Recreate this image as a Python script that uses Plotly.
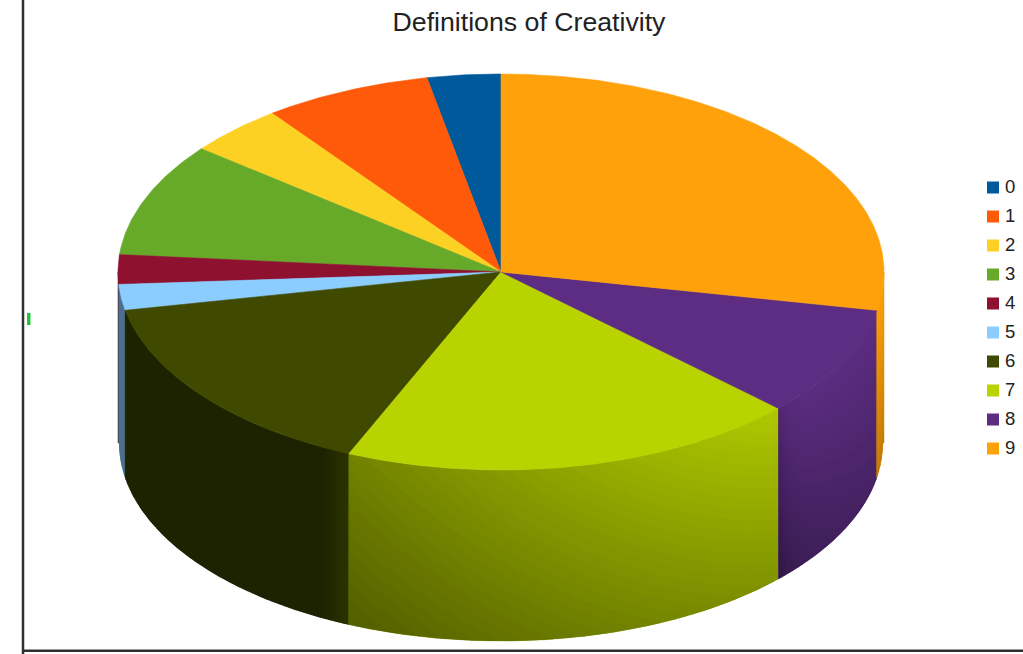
import numpy as np
import plotly.graph_objects as go

# Survey categories and their estimated shares, listed counter-clockwise from 12 o'clock
categories = ["0", "1", "2", "3", "4", "5", "6", "7", "8", "9"]
shares = [3.1, 7.1, 4.1, 9.3, 2.4, 2.1, 15.4, 19.4, 9.0, 28.1]
slice_colors = ["#00599a", "#ff5a0a", "#fdd123", "#67a928", "#8e1230",
                "#8bcdff", "#3f4a00", "#b9d300", "#5c2d82", "#ffa10a"]

# Projection of the cylinder onto the page
CX, CY = 501.0, 272.0
RX, RY = 383.0, 198.0
DEPTH = 171.0
BOTTOM_RX = 381.5  # the lower rim sits slightly narrower in perspective
SHADE_LEVELS = 64
BAND_OVERLAP = 0.6  # bands overlap a little so no seams show between them


def rim(angle_deg):
    a = np.radians(angle_deg)
    return CX - RX * np.sin(a), CY - RY * np.cos(a)


def lower_rim_y(x):
    span = np.clip((x - CX) / BOTTOM_RX, -1, 1)
    return CY + DEPTH + RY * np.sqrt(1 - span ** 2)


def hex_to_rgb(value):
    return np.array([int(value[i:i + 2], 16) for i in (1, 3, 5)], dtype=float)


def wall_shade(category, u, v, x):
    """Brightness of the outer wall; u runs left to right, v top to bottom."""
    if category == "7":
        return (0.62 + 0.33 * u) - v * (0.17 + 0.08 * u)
    if category == "6":
        return 0.47 + 0.22 * np.clip((x - 322.0) / 26.0, 0, 1)
    if category == "8":
        return 1.0 - 0.22 * v - 0.14 * (1 - u) * v - 0.16 * np.exp(-(x - 779.0) / 9.0)
    if category == "9":
        return 0.98 - 0.22 * v
    if category == "5":
        return 0.55
    return 0.6


def css(rgb):
    r, g, b = np.clip(rgb, 0, 255).astype(int)
    return f"rgb({r},{g},{b})"


fig = go.Figure()

total = sum(shares)
edges = np.concatenate([[0.0], np.cumsum(shares) / total * 360.0])

# Outer walls: only the front half of the cylinder is visible
for i, name in enumerate(categories):
    start, end = max(edges[i], 90.0), min(edges[i + 1], 270.0)
    if end <= start:
        continue
    n_col = max(4, int((end - start) * 3))
    n_row = 64
    angle_steps = np.linspace(start, end, n_col + 1)
    xs_rim, ys_rim = rim(angle_steps)
    ys_low = lower_rim_y(xs_rim)
    x_lo, x_hi = xs_rim.min(), xs_rim.max()
    base = hex_to_rgb(slice_colors[i])

    # Solid underlay so no white shows between the shaded bands
    mean_level = float(wall_shade(name, 0.5, 0.5, 0.5 * (x_lo + x_hi)))
    fig.add_trace(go.Scatter(
        x=[*xs_rim, *xs_rim[::-1], xs_rim[0]], y=[*ys_rim, *ys_low[::-1], ys_rim[0]],
        mode="lines", fill="toself", fillcolor=css(base * mean_level),
        line=dict(color=css(base * mean_level), width=0.5), hoverinfo="skip",
        name=f"{name} wall base", showlegend=False))

    # Column by column, runs of equal brightness become one band
    bins = {}
    for c in range(n_col):
        x0 = max(xs_rim[c] - BAND_OVERLAP, x_lo)
        x1 = min(xs_rim[c + 1] + BAND_OVERLAP, x_hi)
        if xs_rim[c] > xs_rim[c + 1]:
            x0, x1 = min(xs_rim[c] + BAND_OVERLAP, x_hi), max(xs_rim[c + 1] - BAND_OVERLAP, x_lo)
        xm = 0.5 * (xs_rim[c] + xs_rim[c + 1])
        u = (xm - x_lo) / max(x_hi - x_lo, 1e-6)
        run_start, run_level = 0, None
        for r in range(n_row + 1):
            level = None
            if r < n_row:
                shade = float(wall_shade(name, u, (r + 0.5) / n_row, xm))
                level = round(shade * SHADE_LEVELS) / SHADE_LEVELS
            if level != run_level:
                if run_level is not None:
                    f0, f1 = run_start / n_row, r / n_row
                    grow = BAND_OVERLAP if r < n_row else 0.0
                    top0 = ys_rim[c] + (ys_low[c] - ys_rim[c]) * f0
                    top1 = ys_rim[c + 1] + (ys_low[c + 1] - ys_rim[c + 1]) * f0
                    low0 = ys_rim[c] + (ys_low[c] - ys_rim[c]) * f1 + grow
                    low1 = ys_rim[c + 1] + (ys_low[c + 1] - ys_rim[c + 1]) * f1 + grow
                    px, py = bins.setdefault(run_level, ([], []))
                    px += [x0, x1, x1, x0, x0, None]
                    py += [top0, top1, low1, low0, top0, None]
                run_start, run_level = r, level
    for level, (px, py) in sorted(bins.items()):
        color = css(base * level)
        fig.add_trace(go.Scatter(x=px, y=py, mode="none", fill="toself", fillcolor=color,
                                 hoverinfo="skip", name=f"{name} wall", showlegend=False))

# Top faces of the slices
for i, name in enumerate(categories):
    arc = np.linspace(edges[i], edges[i + 1], max(3, int(shares[i] * 8)))
    ax, ay = rim(arc)
    fig.add_trace(go.Scatter(x=[CX, *ax, CX], y=[CY, *ay, CY], mode="lines", fill="toself",
                             fillcolor=slice_colors[i],
                             line=dict(color=slice_colors[i], width=0.6),
                             name=name, showlegend=False))

# Key on the right-hand side
key_rows = [187.5 + 29 * k for k in range(len(categories))]
fig.add_trace(go.Scatter(
    x=[993] * len(categories), y=key_rows, mode="markers",
    marker=dict(symbol="square", size=12, color=slice_colors),
    hoverinfo="skip", showlegend=False, cliponaxis=False))
fig.add_trace(go.Scatter(
    x=[1005] * len(categories), y=[row + 1 for row in key_rows], mode="text",
    text=categories, textposition="middle right",
    textfont=dict(family="Liberation Sans", size=18.5, color="#222222"),
    hoverinfo="skip", showlegend=False, cliponaxis=False))

fig.update_layout(
    width=1023, height=654,
    margin=dict(l=0, r=0, t=0, b=0),
    paper_bgcolor="white", plot_bgcolor="white",
    showlegend=False,
    title=dict(text="Definitions of Creativity",
               font=dict(family="Liberation Sans", size=26.7, color="#222222"),
               x=529 / 1023, xanchor="center", y=1 - 22 / 654, yanchor="middle"),
    xaxis=dict(range=[0, 1023], visible=False, fixedrange=True),
    yaxis=dict(range=[654, 0], visible=False, fixedrange=True),
    shapes=[
        dict(type="line", x0=23, x1=23, y0=0, y1=654, line=dict(color="#303030", width=2.5)),
        dict(type="line", x0=22, x1=1023, y0=650.7, y1=650.7, line=dict(color="#303030", width=2.5)),
        dict(type="rect", x0=27, x1=30.5, y0=313, y1=325, fillcolor="#22c63c", line=dict(width=0)),
    ],
)

fig.write_html("out.html")
